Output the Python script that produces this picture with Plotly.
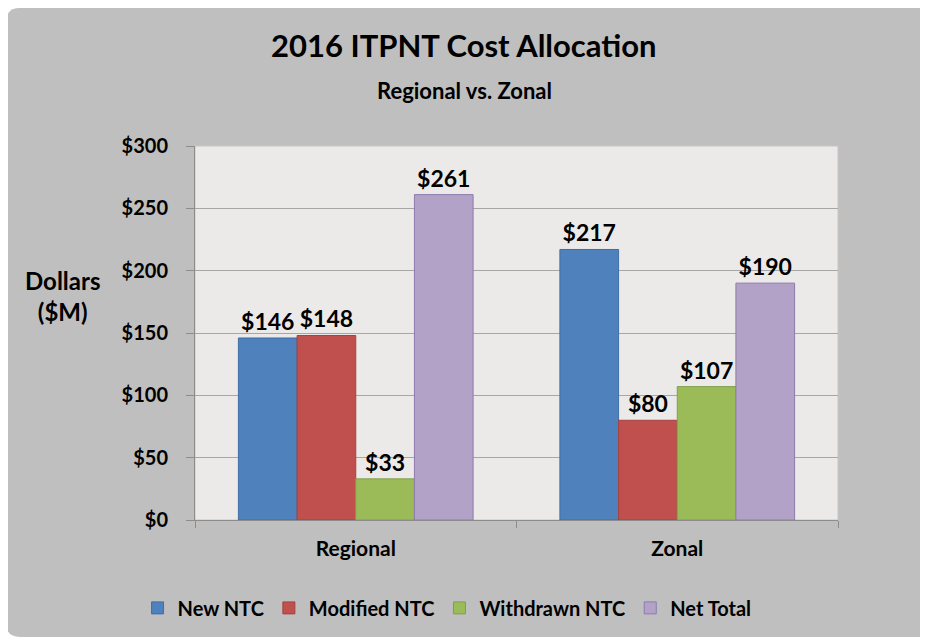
import plotly.graph_objects as go

categories = ["Regional", "Zonal"]
series_names = ["New NTC", "Modified NTC", "Withdrawn NTC", "Net Total"]
new_ntc = [146, 217]
modified_ntc = [148, 80]
withdrawn_ntc = [33, 107]
net_total = [261, 190]
y_ticks = [0, 50, 100, 150, 200, 250, 300]

colors = ["#4F81BD", "#C0504D", "#9BBB59", "#B3A2C7"]
outlines = ["#3F6EA6", "#A5423F", "#80A04A", "#8E7AAE"]
FONT = "Lato"

fig = go.Figure()
for name, vals, col, ln in zip(series_names, [new_ntc, modified_ntc, withdrawn_ntc, net_total], colors, outlines):
    fig.add_trace(go.Bar(
        x=categories,
        y=vals,
        name=name,
        marker=dict(color=col, line=dict(color=ln, width=1)),
        text=["$" + str(v) for v in vals],
        textposition="outside",
        textfont=dict(family=FONT, size=23, color="black", weight="bold"),
        cliponaxis=False,
    ))

# page: white margin, grey rounded panel, light plot area (paper units: 643 x 374 px)
r_x = 14 / 643
r_y = 14 / 374
x0, x1 = -189 / 643, 740 / 643
y0, y1 = -117 / 374, 512 / 374
panel = (f"M {x0 + r_x} {y1} L {x1} {y1} L {x1} {y0} L {x0 + r_x} {y0} "
         f"Q {x0} {y0} {x0} {y0 + r_y} L {x0} {y1 - r_y} Q {x0} {y1} {x0 + r_x} {y1} Z")

fig.update_layout(
    width=920, height=631,
    margin=dict(l=187, r=90, t=138, b=119),
    paper_bgcolor="white",
    plot_bgcolor="rgba(0,0,0,0)",
    barmode="group",
    bargap=0.27,
    bargroupgap=0,
    showlegend=True,
    legend=dict(orientation="h", x=0.392, xanchor="center", y=-0.235, yanchor="middle",
                font=dict(family=FONT, size=20, color="black", weight="bold"),
                bgcolor="rgba(0,0,0,0)", itemwidth=30, traceorder="normal"),
    shapes=[
        dict(type="path", xref="paper", yref="paper", path=panel,
             fillcolor="#BFBFBF", line=dict(width=0), layer="below"),
        dict(type="rect", xref="paper", yref="paper", x0=0, x1=1, y0=0, y1=1,
             fillcolor="#ECE9E9", line=dict(color="#C6C6C6", width=1), layer="below"),
    ],
    annotations=[
        dict(text="2016 ITPNT Cost Allocation", xref="paper", yref="paper",
             x=(464 - 195) / 643, y=(520 - 45) / 374, xanchor="center", yanchor="middle",
             showarrow=False, font=dict(family=FONT, size=31, color="black", weight="bold")),
        dict(text="Regional vs. Zonal", xref="paper", yref="paper",
             x=(464 - 195) / 643, y=(520 - 90) / 374, xanchor="center", yanchor="middle",
             showarrow=False, font=dict(family=FONT, size=22, color="black", weight="bold")),
        dict(text="Dollars<br>($M)", xref="paper", yref="paper",
             x=(62 - 195) / 643, y=(520 - 296) / 374, xanchor="center", yanchor="middle",
             showarrow=False, align="center",
             font=dict(family=FONT, size=24, color="black", weight="bold")),
    ],
)

fig.update_xaxes(
    tickson="boundaries", ticks="outside", ticklen=7, tickcolor="#8C8C8C",
    showline=True, linecolor="#8C8C8C", linewidth=1,
    tickfont=dict(family=FONT, size=21, color="black", weight="bold"),
    ticklabelstandoff=10,
)
fig.update_yaxes(
    range=[0, 300], tickvals=y_ticks, ticktext=["$" + str(v) for v in y_ticks],
    ticks="outside", ticklen=8, tickcolor="#8C8C8C",
    showline=True, linecolor="#8C8C8C", linewidth=1,
    showgrid=True, gridcolor="#A6A6A6", gridwidth=1, zeroline=False,
    tickfont=dict(family=FONT, size=20, color="black", weight="bold"),
    ticklabelstandoff=14,
)

fig.write_html("out.html")
